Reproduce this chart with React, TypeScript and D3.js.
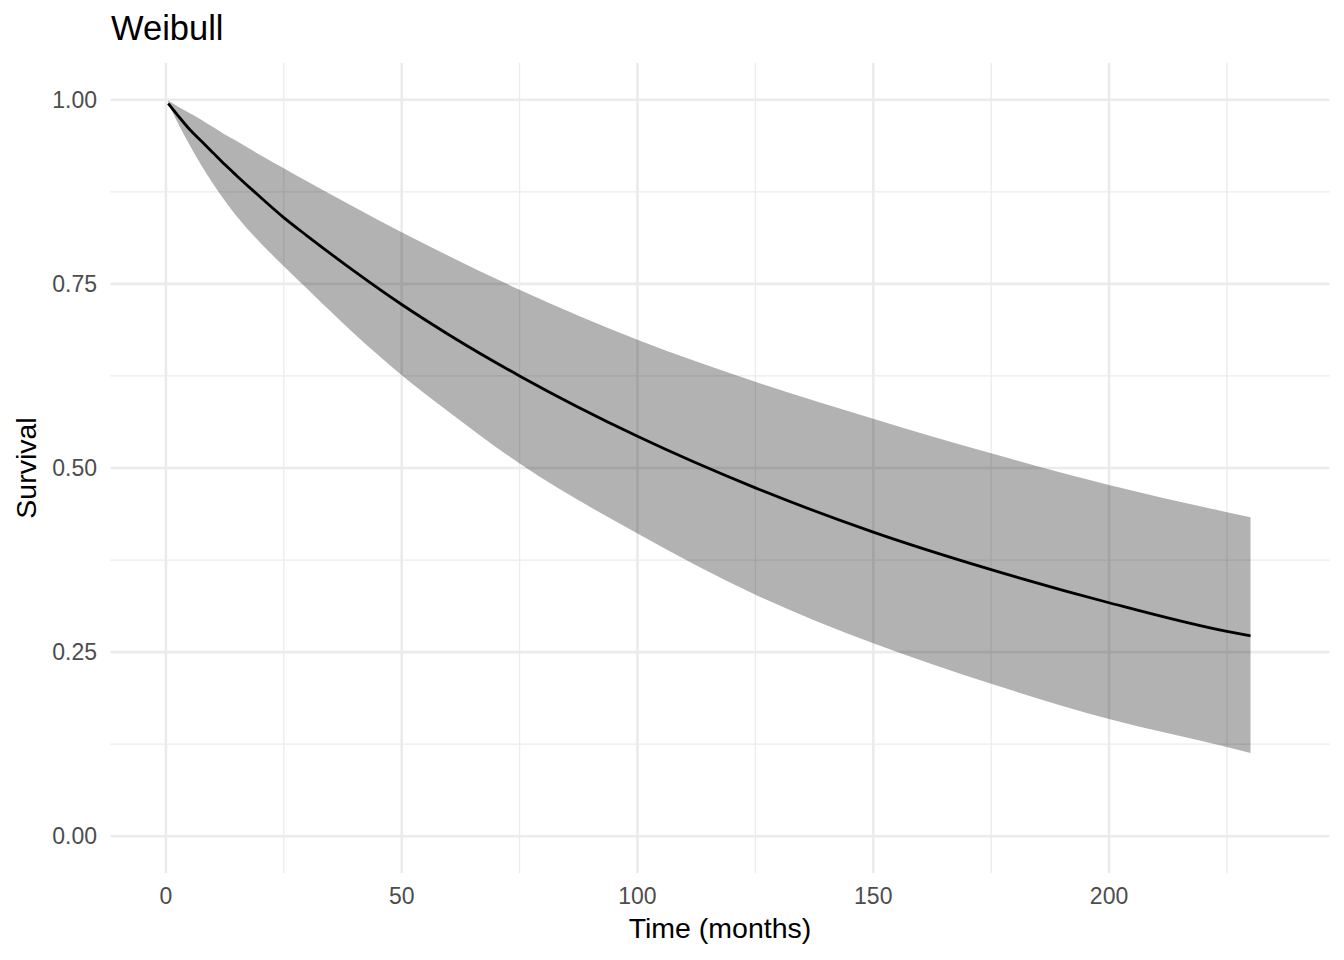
import * as d3 from "d3";

// readings from the reference plot (months, survival probability)
const months = [0.5, 2.5, 5, 7.5, 10, 12.5, 15, 20, 25, 30, 40, 50, 60, 75, 100, 125, 150, 175, 200, 225, 230];
const survival = [0.995, 0.979, 0.96, 0.944, 0.928, 0.912, 0.897, 0.868, 0.84, 0.815, 0.767, 0.722, 0.681, 0.625, 0.543, 0.473, 0.413, 0.362, 0.317, 0.278, 0.272];
const upper = [0.999, 0.991, 0.982, 0.973, 0.963, 0.953, 0.944, 0.925, 0.907, 0.889, 0.854, 0.82, 0.788, 0.742, 0.674, 0.617, 0.567, 0.52, 0.477, 0.44, 0.433];
const lower = [0.995, 0.969, 0.939, 0.911, 0.886, 0.863, 0.842, 0.806, 0.774, 0.743, 0.682, 0.626, 0.576, 0.506, 0.411, 0.328, 0.262, 0.207, 0.159, 0.121, 0.113];

const xMajor = [0, 50, 100, 150, 200];
const xMinor = [25, 75, 125, 175, 225];
const yMajor = [0, 0.25, 0.5, 0.75, 1];
const yMinor = [0.125, 0.375, 0.625, 0.875];

const width = 1344;
const height = 960;
const panel = { left: 110.5, right: 1329.5, top: 63, bottom: 873 };
const font = "'Liberation Sans', Arial, sans-serif";

type Pt = { t: number; s: number; lo: number; hi: number };

export default function App() {
  const data: Pt[] = months.map((t, i) => ({ t, s: survival[i], lo: lower[i], hi: upper[i] }));

  const x = d3.scaleLinear([-11.75, 246.75], [panel.left, panel.right]);
  const y = d3.scaleLinear([-0.05, 1.05], [panel.bottom, panel.top]);

  const band = d3
    .area<Pt>()
    .x((d) => x(d.t))
    .y0((d) => y(d.lo))
    .y1((d) => y(d.hi))
    .curve(d3.curveMonotoneX);
  const line = d3
    .line<Pt>()
    .x((d) => x(d.t))
    .y((d) => y(d.s))
    .curve(d3.curveMonotoneX);

  return (
    <svg
      width={width}
      height={height}
      style={{ position: "absolute", left: 0, top: 0, background: "#fff" }}
      fontFamily={font}
    >
      <rect width={width} height={height} fill="#fff" />
      {/* grid */}
      {yMinor.map((v) => (
        <line key={"ym" + v} x1={panel.left} x2={panel.right} y1={y(v)} y2={y(v)} stroke="#ebebeb" strokeWidth={1.3} />
      ))}
      {xMinor.map((v) => (
        <line key={"xm" + v} x1={x(v)} x2={x(v)} y1={panel.top} y2={panel.bottom} stroke="#ebebeb" strokeWidth={1.3} />
      ))}
      {yMajor.map((v) => (
        <line key={"yM" + v} x1={panel.left} x2={panel.right} y1={y(v)} y2={y(v)} stroke="#ebebeb" strokeWidth={2.6} />
      ))}
      {xMajor.map((v) => (
        <line key={"xM" + v} x1={x(v)} x2={x(v)} y1={panel.top} y2={panel.bottom} stroke="#ebebeb" strokeWidth={2.6} />
      ))}

      <path d={band(data) ?? ""} fill="#000" fillOpacity={0.3} />
      <path d={line(data) ?? ""} fill="none" stroke="#000" strokeWidth={2.8} />

      {/* tick labels */}
      {yMajor.map((v) => (
        <text key={"yl" + v} x={97} y={y(v)} dy="0.36em" textAnchor="end" fontSize={23} fill="#4d4d4d">
          {v.toFixed(2)}
        </text>
      ))}
      {xMajor.map((v) => (
        <text key={"xl" + v} x={x(v)} y={904} textAnchor="middle" fontSize={23} fill="#4d4d4d">
          {v}
        </text>
      ))}

      {/* titles */}
      <text x={(panel.left + panel.right) / 2} y={938} textAnchor="middle" fontSize={28.5} fill="#000">
        Time (months)
      </text>
      <text
        transform={`translate(36,${(panel.top + panel.bottom) / 2}) rotate(-90)`}
        textAnchor="middle"
        fontSize={28.5}
        fill="#000"
      >
        Survival
      </text>
      <text x={111} y={40} fontSize={34.5} fill="#000">
        Weibull
      </text>
    </svg>
  );
}
